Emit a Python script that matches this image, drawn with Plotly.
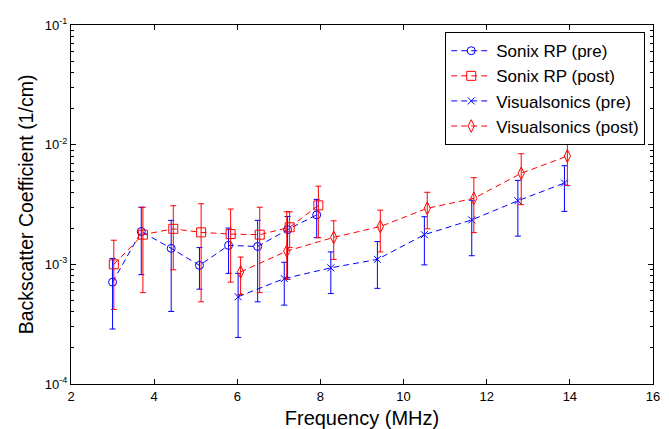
import plotly.graph_objects as go

# Sonix RP (pre)
sonix_pre_f = [3.0, 3.69, 4.41, 5.09, 5.79, 6.49, 7.21, 7.91]
sonix_pre_v = [7.1e-4, 1.88e-3, 1.36e-3, 9.8e-4, 1.44e-3, 1.41e-3, 1.95e-3, 2.59e-3]
sonix_pre_hi = [1.12e-3, 3.0e-3, 2.33e-3, 1.38e-3, 2.01e-3, 2.33e-3, 2.51e-3, 3.49e-3]
sonix_pre_lo = [2.88e-4, 8.2e-4, 4.04e-4, 6.2e-4, 8.4e-4, 4.86e-4, 7.5e-4, 1.67e-3]

# Sonix RP (post)
sonix_post_f = [3.03, 3.73, 4.46, 5.13, 5.84, 6.54, 7.26, 7.95]
sonix_post_v = [1.0e-3, 1.77e-3, 1.98e-3, 1.85e-3, 1.79e-3, 1.77e-3, 2.04e-3, 3.11e-3]
sonix_post_hi = [1.59e-3, 3.0e-3, 3.09e-3, 3.21e-3, 2.9e-3, 3.0e-3, 2.75e-3, 4.5e-3]
sonix_post_lo = [4.2e-4, 5.8e-4, 9.0e-4, 4.86e-4, 7.1e-4, 5.8e-4, 1.38e-3, 1.67e-3]

# Visualsonics (pre)
vs_pre_f = [6.02, 7.13, 8.25, 9.37, 10.5, 11.64, 12.75, 13.87]
vs_pre_v = [5.36e-4, 7.6e-4, 9.35e-4, 1.1e-3, 1.77e-3, 2.35e-3, 3.4e-3, 4.78e-3]
vs_pre_hi = [8.4e-4, 1.04e-3, 1.27e-3, 1.55e-3, 2.5e-3, 3.43e-3, 5.03e-3, 6.67e-3]
vs_pre_lo = [2.45e-4, 4.56e-4, 5.7e-4, 6.3e-4, 9.9e-4, 1.18e-3, 1.72e-3, 2.77e-3]

# Visualsonics (post)
vs_post_f = [6.08, 7.19, 8.32, 9.44, 10.57, 11.69, 12.83, 13.94]
vs_post_v = [8.65e-4, 1.29e-3, 1.68e-3, 2.07e-3, 2.94e-3, 3.56e-3, 5.76e-3, 8.03e-3]
vs_post_hi = [1.15e-3, 2.75e-3, 2.31e-3, 2.84e-3, 4.0e-3, 5.3e-3, 8.4e-3, 1.14e-2]
vs_post_lo = [5.6e-4, 7.5e-4, 1.1e-3, 1.27e-3, 1.98e-3, 1.84e-3, 3.15e-3, 4.57e-3]

x_ticks = [2, 4, 6, 8, 10, 12, 14, 16]
y_ticks = [1e-4, 1e-3, 1e-2, 1e-1]
y_tick_labels = ["10<sup>-4</sup>", "10<sup>-3</sup>", "10<sup>-2</sup>", "10<sup>-1</sup>"]

BLUE = "#0000FF"
RED = "#FF0000"

series = [
    ("Sonix RP (pre)", sonix_pre_f, sonix_pre_v, sonix_pre_hi, sonix_pre_lo, BLUE, "circle-open", 8),
    ("Sonix RP (post)", sonix_post_f, sonix_post_v, sonix_post_hi, sonix_post_lo, RED, "square-open", 9),
    ("Visualsonics (pre)", vs_pre_f, vs_pre_v, vs_pre_hi, vs_pre_lo, BLUE, "x-thin-open", 7),
    ("Visualsonics (post)", vs_post_f, vs_post_v, vs_post_hi, vs_post_lo, RED, "diamond-tall-open", 9),
]

fig = go.Figure()
for name, f, v, hi, lo, col, sym, sz in series:
    plus = [h - m for h, m in zip(hi, v)]
    minus = [m - l for m, l in zip(v, lo)]
    fig.add_trace(go.Scatter(
        x=f, y=v, name=name, mode="lines+markers",
        line=dict(color=col, width=1, dash="6px,4px"),
        marker=dict(symbol=sym, size=sz, color=col, line=dict(color=col, width=1)),
        error_y=dict(type="data", array=plus, arrayminus=minus, visible=True,
                     color=col, thickness=1, width=3),
    ))

minor_vals = [m * 10 ** e for e in (-4, -3, -2) for m in range(2, 10)]

# page body has an 8px margin, so the figure is sized/offset to compensate
fig.update_layout(
    width=661, height=421,
    margin=dict(l=63, r=16, t=17, b=45),
    paper_bgcolor="white", plot_bgcolor="white",
    font=dict(family="Liberation Sans, Arial, sans-serif", color="black"),
    showlegend=True,
    legend=dict(x=0.643, y=0.98, xanchor="left", yanchor="top",
                bgcolor="white", bordercolor="black", borderwidth=1,
                font=dict(size=17), itemwidth=40),
    xaxis=dict(
        range=[2, 16], tickvals=x_ticks, ticktext=[str(t) for t in x_ticks],
        ticks="inside", ticklen=5, tickcolor="black", mirror="ticks",
        showline=True, linecolor="black", linewidth=1, showgrid=False, zeroline=False,
        tickfont=dict(size=13), automargin=False,
        title=dict(text="Frequency (MHz)", font=dict(size=20), standoff=8),
    ),
    yaxis=dict(
        type="log", range=[-4, -1], tickvals=y_ticks, ticktext=y_tick_labels,
        ticks="inside", ticklen=5, tickcolor="black", mirror="ticks",
        showline=True, linecolor="black", linewidth=1, showgrid=False, zeroline=False,
        tickfont=dict(size=13), automargin=False,
        minor=dict(tickvals=minor_vals, ticks="inside", ticklen=3, tickcolor="black", showgrid=False),
        title=dict(text="Backscatter Coefficient (1/cm)", font=dict(size=19.5), standoff=6),
    ),
)

fig.write_html("out.html")
